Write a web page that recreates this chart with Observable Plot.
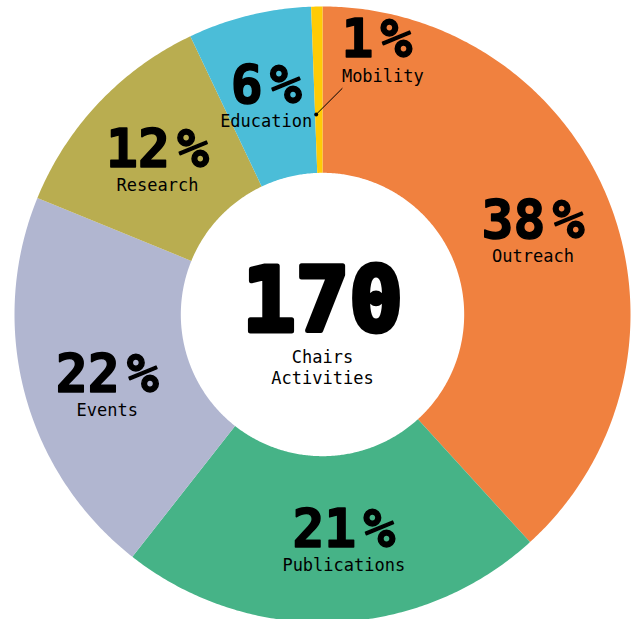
<!DOCTYPE html>
<html>
<head>
<meta charset="utf-8">
<script src="https://cdn.jsdelivr.net/npm/d3@7"></script>
<script src="https://cdn.jsdelivr.net/npm/@observablehq/plot@0.6"></script>
<style>
  html, body { margin: 0; padding: 0; background: #ffffff; overflow: hidden; }
  #chart { width: 632px; height: 619px; }
</style>
</head>
<body>
<div id="chart"></div>
<script>
// ---- data ----
const categories = ["Outreach", "Publications", "Events", "Research", "Education", "Mobility"];
const values = [65, 38, 35, 20, 11, 1];          // activity counts (slice sizes)
const percents = [38, 21, 22, 12, 6, 1];         // percentages as printed on the chart
const colors = ["#F0813F", "#46B387", "#B1B6D0", "#B9AD50", "#4BBDD8", "#FFCB05"];
const centerLines = ["Chairs", "Activities"];
const calloutCategories = ["Mobility"];

// ---- geometry derived from data ----
const total = d3.sum(values);
const innerR = 0.46, outerR = 1, labelR = 0.735, calloutR = 0.65;
const arcs = d3.pie().sort(null).value(d => d)(values);
const labelArcs = d3.pie().sort(null).value(d => d)(percents);
const slices = arcs.map((p, i) => ({
  cat: categories[i], pct: percents[i] + "%",
  a0: p.startAngle, a1: p.endAngle,
  mid: (labelArcs[i].startAngle + labelArcs[i].endAngle) / 2
}));

const ring = [];
for (const s of slices) {
  const n = Math.max(2, Math.ceil((s.a1 - s.a0) / (Math.PI / 360)));
  for (let k = 0; k <= n; k++) {
    const a = s.a0 + (s.a1 - s.a0) * k / n;
    ring.push({cat: s.cat, x: outerR * Math.sin(a), y: outerR * Math.cos(a)});
  }
  for (let k = n; k >= 0; k--) {
    const a = s.a0 + (s.a1 - s.a0) * k / n;
    ring.push({cat: s.cat, x: innerR * Math.sin(a), y: innerR * Math.cos(a)});
  }
}

const inside = slices.filter(s => !calloutCategories.includes(s.cat))
  .map(s => ({...s, x: labelR * Math.sin(s.mid), y: labelR * Math.cos(s.mid)}));
const callouts = slices.filter(s => calloutCategories.includes(s.cat))
  .map(s => {
    const x1 = calloutR * Math.sin(s.mid), y1 = calloutR * Math.cos(s.mid);
    return {...s, x1, y1, x2: x1 + 0.085, y2: y1 + 0.085};
  });
const centre = [{x: 0, y: 0, total: String(total), caption: centerLines.join("\n")}];

const plot = Plot.plot({
  width: 632,
  height: 619,
  margin: 0,
  x: {domain: [-1, 1], range: [14, 630], axis: null},
  y: {domain: [-1, 1], range: [622, 6], axis: null},
  color: {domain: categories, range: colors},
  style: {fontFamily: "'DejaVu Sans Mono', monospace", background: "#ffffff", color: "#000000"},
  marks: [
    Plot.line(ring, {x: "x", y: "y", z: "cat", fill: "cat", stroke: "none", curve: "linear-closed"}),
    // inside labels
    Plot.text(inside, {x: "x", y: "y", text: "pct", dy: 7.3, lineAnchor: "bottom",
      fontSize: 53, fontWeight: "bold", fill: "#000", stroke: "#000", strokeWidth: 1.5}),
    Plot.text(inside, {x: "x", y: "y", text: "cat", dy: 31.3, lineAnchor: "bottom",
      fontSize: 17, fill: "#000"}),
    // callout for small slices
    Plot.link(callouts, {x1: "x1", y1: "y1", x2: "x2", y2: "y2", stroke: "#000", strokeWidth: 1}),
    Plot.dot(callouts, {x: "x1", y: "y1", r: 2, fill: "#000", stroke: "none"}),
    Plot.text(callouts, {x: "x2", y: "y2", text: "pct", dx: -1, dy: -31, lineAnchor: "bottom", textAnchor: "start",
      fontSize: 53, fontWeight: "bold", fill: "#000", stroke: "#000", strokeWidth: 1.5}),
    Plot.text(callouts, {x: "x2", y: "y2", text: "cat", dx: -0.5, dy: -6, lineAnchor: "bottom", textAnchor: "start",
      fontSize: 17, fill: "#000"}),
    // centre
    Plot.text(centre, {x: "x", y: "y", text: "total", dy: 16.5, lineAnchor: "bottom",
      fontSize: 89, fontWeight: "bold", fill: "#000", stroke: "#000", strokeWidth: 5}),
    Plot.text(centre, {x: "x", y: "y", text: "caption", dy: 69, lineAnchor: "bottom", lineHeight: 1.2,
      fontSize: 17, fill: "#000"})
  ]
});

// a narrow gap before the percent sign, as in the reference typography
const pctSet = new Set(slices.map(s => s.pct));
d3.select(plot).selectAll("text").each(function() {
  const s = this.textContent;
  if (!pctSet.has(s) || this.childElementCount) return;
  this.textContent = s.slice(0, -1);
  d3.select(this).append("tspan").attr("dx", 7).text("%");
});

document.getElementById("chart").appendChild(plot);
</script>
</body>
</html>
